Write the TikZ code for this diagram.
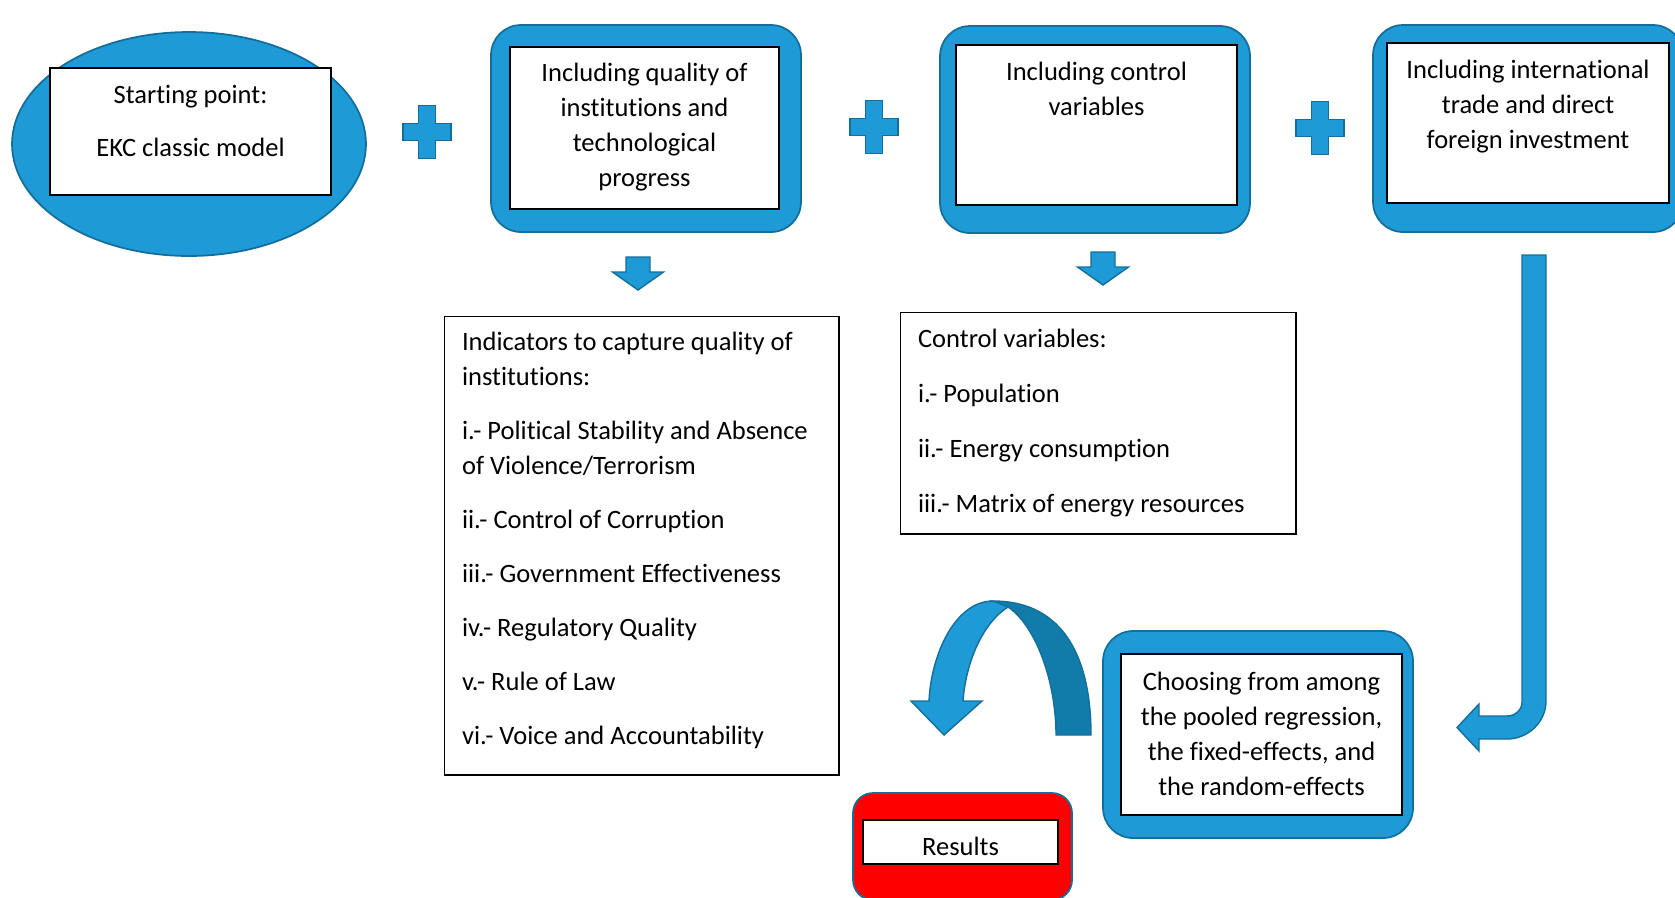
\documentclass[tikz,border=0pt]{standalone}
\usepackage{fontspec}
\setmainfont{Carlito}[Ligatures={NoCommon}]
\usetikzlibrary{shapes.geometric,calc}
\definecolor{ekcblue}{RGB}{30,155,215}
\definecolor{ekcedge}{RGB}{20,110,155}
\definecolor{ekcdark}{RGB}{17,124,170}
\definecolor{ekcred} {RGB}{255,0,0}
\newcommand{\ekcfont}{\fontsize{15.1}{19.9}\selectfont}
\newcommand{\ekcpad}[1]{\rule[-#1]{0pt}{#1}}
\tikzset{
  outbox/.style={rectangle,rounded corners=0.6cm,draw=ekcedge,fill=ekcblue,
                 line width=1pt,minimum width=6.2cm,minimum height=4.14cm},
  inbox/.style={rectangle,draw=black,fill=white,line width=1.1pt,
                align=center,font=\ekcfont,inner sep=0pt},
  listbox/.style={rectangle,draw=black,fill=white,line width=0.6pt,
                  align=flush left,font=\ekcfont,inner xsep=0.36cm,inner ysep=0pt},
  blockarr/.style={draw=ekcedge,fill=ekcblue,line width=0.8pt,line join=miter},
}

\begin{document}
\begin{tikzpicture}[x=0.02cm,y=-0.02cm]
  \useasboundingbox (0,0) rectangle (1675,897);
  \clip (0,0) rectangle (1675,897);

  % top row
  \node[ellipse,draw=ekcedge,fill=ekcblue,line width=1pt,
        minimum width=7.08cm,minimum height=4.48cm] (start) at (189,144) {};
  \node[inbox,minimum width=5.62cm,minimum height=2.54cm] (startin) at (190.5,131.5)
    {Starting point:\\[10.2pt]EKC classic model\ekcpad{12.5pt}};

  \node[outbox] (inst) at (646,128.5) {};
  \node[inbox,minimum width=5.38cm,minimum height=3.24cm] (instin) at (644.5,128)
    {Including quality of\\institutions and\\technological\\progress\ekcpad{4pt}};

  \node[outbox] (ctrl) at (1095,129.5) {};
  \node[inbox,minimum width=5.62cm,minimum height=3.2cm] (ctrlin) at (1096.5,125)
    {Including control\\variables\ekcpad{41pt}};

  \node[outbox] (trade) at (1528,128.5) {};
  \node[inbox,minimum width=5.64cm,minimum height=3.2cm] (tradein) at (1528,123)
    {Including international\\trade and direct\\foreign investment\ekcpad{21.5pt}};

  \foreach \px/\py in {427/132,874/127,1320/128}
    \draw[blockarr,shift={(\px,\py)}] (-8.5,-26.5) -- (8.5,-26.5) -- (8.5,-8.5)
      -- (24,-8.5) -- (24,8.5) -- (8.5,8.5) -- (8.5,26.5) -- (-8.5,26.5)
      -- (-8.5,8.5) -- (-24,8.5) -- (-24,-8.5) -- (-8.5,-8.5) -- cycle;

  \foreach \px/\py in {638/257,1103/252}
    \draw[blockarr,shift={(\px,\py)}] (-12,0) -- (12,0) -- (12,15) -- (25.5,15)
      -- (0,33) -- (-25.5,15) -- (-12,15) -- cycle;

  % lists
  \node[listbox,text width=7.18cm,minimum height=9.18cm] (ind) at (641.5,545.5)
    {Indicators to capture quality of\\institutions:\\[10.8pt]
     i.- Political Stability and Absence\\of Violence/Terrorism\\[10.8pt]
     ii.- Control of Corruption\\[10.8pt]
     iii.- Government Effectiveness\\[10.8pt]
     iv.- Regulatory Quality\\[10.8pt]
     v.- Rule of Law\\[10.8pt]
     vi.- Voice and Accountability\ekcpad{8pt}};

  \node[listbox,text width=7.2cm,minimum height=4.44cm] (cvar) at (1098,423)
    {\rule{0pt}{14pt}Control variables:\\[11.4pt]
     i.- Population\\[11.2pt]
     ii.- Energy consumption\\[11.2pt]
     iii.- Matrix of energy resources\ekcpad{6pt}};

  % model choice and results
  \node[outbox] (model) at (1258,734.5) {};
  \node[inbox,minimum width=5.62cm,minimum height=3.22cm] (modelin) at (1261.5,734.5)
    {Choosing from among\\the pooled regression,\\the fixed-effects, and\\the random-effects\ekcpad{1pt}};

  \node[rectangle,rounded corners=0.4cm,draw=ekcedge,fill=ekcred,line width=1pt,
        minimum width=4.38cm,minimum height=2.14cm] (res) at (962.5,846.5) {};
  \node[inbox,minimum width=3.9cm,minimum height=0.88cm] (resin) at (960.5,842)
    {\rule{0pt}{16pt}Results};

  % bent arrow from trade to model
  \draw[blockarr] (1522,255) -- (1546,255) -- (1546,701)
    .. controls (1546,722) and (1528,739) .. (1507,739) -- (1479,739) -- (1479,751)
    -- (1457,727.5) -- (1479,704) -- (1479,716) -- (1507,716)
    .. controls (1515,716) and (1522,710) .. (1522,702) -- cycle;

  % u-turn arrow from model to results
  \draw[blockarr,fill=ekcdark] (993,601) .. controls (1065,601) and (1091,660) .. (1091,735)
    -- (1056,735) .. controls (1056,680) and (1035,625) .. (1008,607) -- cycle;
  \draw[blockarr] (993,601) .. controls (955,601) and (931,655) .. (929,701)
    -- (911,701) -- (944,735) -- (982,701) -- (963,701)
    .. controls (966,660) and (984,622) .. (1008,607) -- cycle;
\end{tikzpicture}
\end{document}
